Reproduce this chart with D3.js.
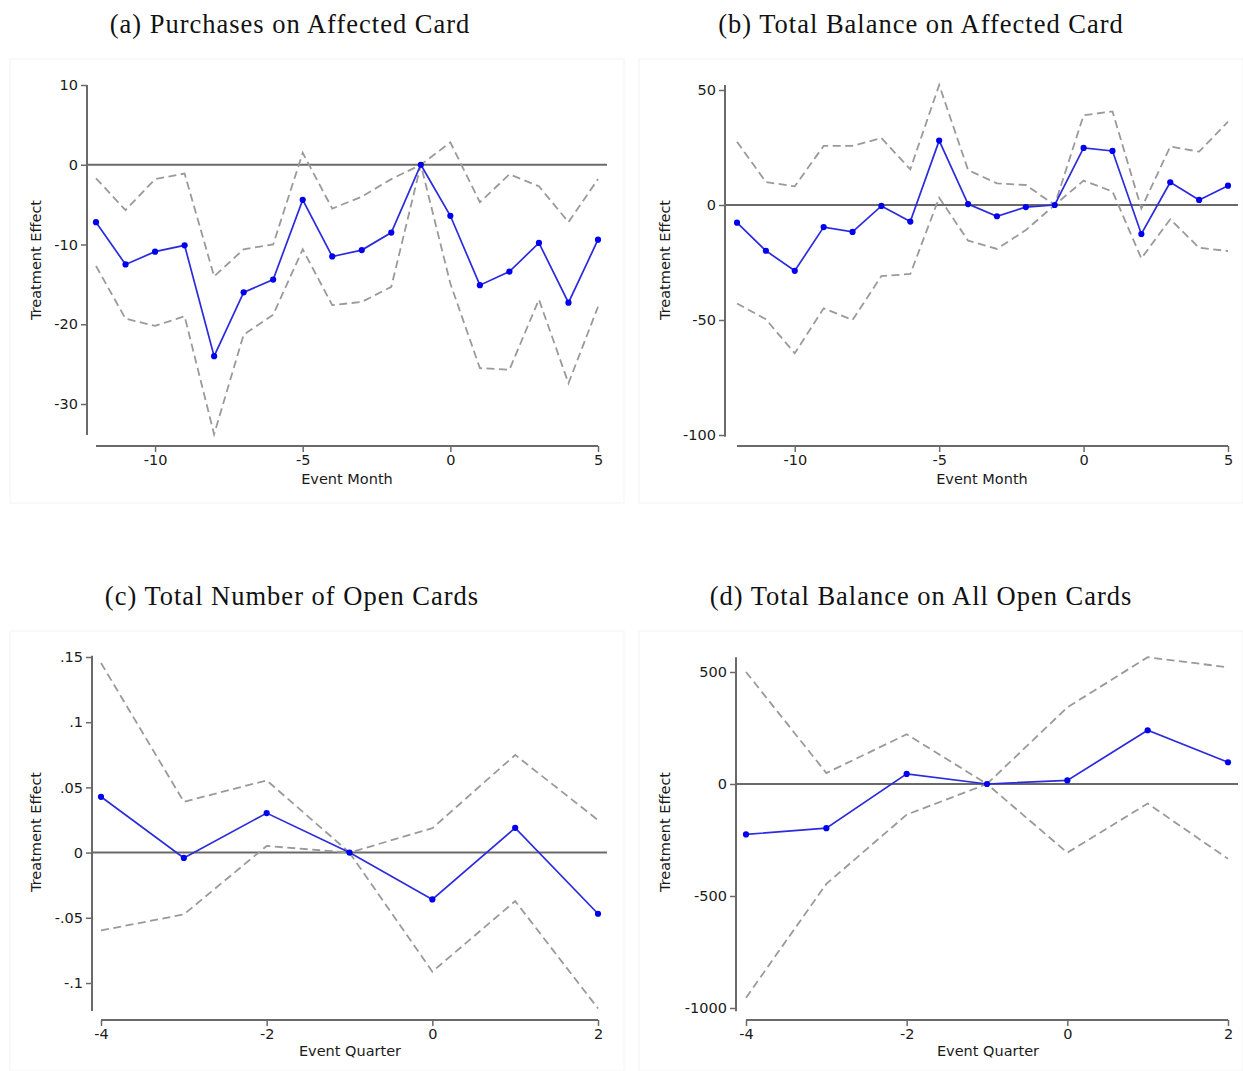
<!DOCTYPE html>
<html>
<head>
<meta charset="utf-8">
<script src="https://cdn.jsdelivr.net/npm/d3@7"></script>
<style>
  html, body { margin: 0; padding: 0; background: #fff; }
  svg { display: block; }
</style>
</head>
<body>
<svg id="chart" width="1243" height="1071"></svg>
<script>
// ---------- DATA ----------
const monthsX = [-12,-11,-10,-9,-8,-7,-6,-5,-4,-3,-2,-1,0,1,2,3,4,5];
const quartersX = [-4,-3,-2,-1,0,1,2];

const titles = ["(a) Purchases on Affected Card", "(b) Total Balance on Affected Card",
                "(c) Total Number of Open Cards", "(d) Total Balance on All Open Cards"];
const xLabels = ["Event Month", "Event Month", "Event Quarter", "Event Quarter"];
const yLabel = "Treatment Effect";

// (a) Purchases on Affected Card
const aEst   = [-7.2,-12.5,-10.9,-10.1,-24.0,-16.0,-14.4,-4.4,-11.5,-10.7,-8.5,0,-6.4,-15.1,-13.4,-9.8,-17.3,-9.4];
const aUpper = [-1.7,-5.7,-1.8,-1.1,-14.0,-10.6,-10.0,1.5,-5.5,-4.0,-1.8,0,2.8,-4.7,-1.2,-2.7,-7.2,-1.8];
const aLower = [-12.7,-19.3,-20.2,-19.0,-33.8,-21.3,-18.8,-10.6,-17.6,-17.2,-15.3,0,-14.9,-25.5,-25.7,-16.9,-27.4,-17.8];
const aTicksY = [10,0,-10,-20,-30];
const aTickLabelsY = ["10","0","-10","-20","-30"];
const aTicksX = [-10,-5,0,5];
const aTickLabelsX = ["-10","-5","0","5"];

// (b) Total Balance on Affected Card
const bEst   = [-7.7,-19.9,-28.6,-9.6,-11.7,-0.4,-7.2,28.0,0.4,-4.9,-0.9,0,24.8,23.5,-12.6,9.9,2.2,8.4];
const bUpper = [27.5,10.0,8.1,25.7,25.7,29.1,15.5,52.2,15.2,9.4,8.7,0,39.0,40.7,-1.5,25.4,23.2,36.2];
const bLower = [-42.8,-49.7,-64.5,-44.9,-50.0,-30.9,-30.0,3.2,-15.5,-19.1,-10.9,0,10.6,5.9,-23.2,-6.2,-18.6,-20.0];
const bTicksY = [50,0,-50,-100];
const bTickLabelsY = ["50","0","-50","-100"];
const bTicksX = [-10,-5,0,5];
const bTickLabelsX = ["-10","-5","0","5"];

// (c) Total Number of Open Cards
const cEst   = [0.0428,-0.0041,0.0303,0,-0.0359,0.019,-0.0469];
const cUpper = [0.1454,0.039,0.0554,0,0.0187,0.0749,0.0249];
const cLower = [-0.0597,-0.0474,0.0051,0,-0.0913,-0.0372,-0.1195];
const cTicksY = [0.15,0.1,0.05,0,-0.05,-0.1];
const cTickLabelsY = [".15",".1",".05","0","-.05","-.1"];
const cTicksX = [-4,-2,0,2];
const cTickLabelsX = ["-4","-2","0","2"];

// (d) Total Balance on All Open Cards
const dEst   = [-225,-197,45,0,16,240,97];
const dUpper = [500,49,222,0,342,566,521];
const dLower = [-954,-446,-137,0,-307,-87,-334];
const dTicksY = [500,0,-500,-1000];
const dTickLabelsY = ["500","0","-500","-1000"];
const dTicksX = [-4,-2,0,2];
const dTickLabelsX = ["-4","-2","0","2"];

// ---------- LAYOUT ----------
const panels = [
  { x: monthsX, est: aEst, up: aUpper, lo: aLower, ticksY: aTicksY, tickLabelsY: aTickLabelsY,
    ticksX: aTicksX, tickLabelsX: aTickLabelsX,
    xDom: [-12,5], xRange: [96,598], yDom: [10,-30], yRange: [85,404], yAxisX: 87,
    yAxisDom: [10,-33.9], xAxisY: 446, zeroEnd: 607,
    title: titles[0], titleX: 290, titleY: 33, xLab: xLabels[0], xLabX: 347, xLabY: 484, yLabX: 41, yLabY: 260,
    frame: [10,59,614,444] },
  { x: monthsX, est: bEst, up: bUpper, lo: bLower, ticksY: bTicksY, tickLabelsY: bTickLabelsY,
    ticksX: bTicksX, tickLabelsX: bTickLabelsX,
    xDom: [-12,5], xRange: [737,1228], yDom: [50,-100], yRange: [90,435], yAxisX: 725,
    yAxisDom: [52.2,-100.8], xAxisY: 446, zeroEnd: 1238,
    title: titles[1], titleX: 921, titleY: 33, xLab: xLabels[1], xLabX: 982, xLabY: 484, yLabX: 670, yLabY: 260,
    frame: [639,59,604,444] },
  { x: quartersX, est: cEst, up: cUpper, lo: cLower, ticksY: cTicksY, tickLabelsY: cTickLabelsY,
    ticksX: cTicksX, tickLabelsX: cTickLabelsX,
    xDom: [-4,2], xRange: [101,598], yDom: [0.15,-0.1], yRange: [657,983], yAxisX: 92,
    yAxisDom: [0.151,-0.1215], xAxisY: 1020, zeroEnd: 607,
    title: titles[2], titleX: 292, titleY: 605, xLab: xLabels[2], xLabX: 350, xLabY: 1056, yLabX: 41, yLabY: 832,
    frame: [10,631,614,440] },
  { x: quartersX, est: dEst, up: dUpper, lo: dLower, ticksY: dTicksY, tickLabelsY: dTickLabelsY,
    ticksX: dTicksX, tickLabelsX: dTickLabelsX,
    xDom: [-4,2], xRange: [746,1228], yDom: [500,-1000], yRange: [672,1008], yAxisX: 736,
    yAxisDom: [566,-1015], xAxisY: 1020, zeroEnd: 1238,
    title: titles[3], titleX: 921, titleY: 605, xLab: xLabels[3], xLabX: 988, xLabY: 1056, yLabX: 670, yLabY: 832,
    frame: [639,631,604,440] }
];

const svg = d3.select("#chart");
const axisColor = "#6a6a6a";
const textColor = "#1a1a1a";
const sansFont = "'DejaVu Sans', sans-serif";
const serifFont = "'Liberation Serif', 'DejaVu Serif', serif";
const fs = 14.5;

panels.forEach(p => {
  const g = svg.append("g");
  const x = d3.scaleLinear().domain(p.xDom).range(p.xRange);
  const y = d3.scaleLinear().domain(p.yDom).range(p.yRange);

  // faint frame
  g.append("rect").attr("x", p.frame[0]).attr("y", p.frame[1])
    .attr("width", p.frame[2]).attr("height", p.frame[3])
    .attr("fill", "none").attr("stroke", "#f3f3f3").attr("stroke-width", 1);

  // title
  g.append("text").attr("x", p.titleX).attr("y", p.titleY)
    .attr("text-anchor", "middle").attr("font-family", serifFont)
    .attr("font-size", 26.5).attr("letter-spacing", 1.0).attr("fill", "#111").text(p.title);

  // y axis
  const yAxis = d3.axisLeft(y).tickValues(p.ticksY).tickSize(6).tickPadding(3)
    .tickFormat((d, i) => p.tickLabelsY[i]);
  const ya = g.append("g").attr("transform", `translate(${p.yAxisX},0)`).call(yAxis);
  ya.select(".domain").remove();
  ya.append("line").attr("x1", 0).attr("x2", 0)
    .attr("y1", y(p.yAxisDom[0])).attr("y2", y(p.yAxisDom[1]))
    .attr("stroke", axisColor).attr("stroke-width", 2);
  ya.selectAll(".tick line").attr("stroke", axisColor).attr("stroke-width", 1.5);
  ya.selectAll(".tick text").attr("font-family", sansFont).attr("font-size", fs).attr("fill", textColor);

  // x axis
  const xAxis = d3.axisBottom(x).tickValues(p.ticksX).tickSize(6).tickPadding(3)
    .tickFormat((d, i) => p.tickLabelsX[i]);
  const xa = g.append("g").attr("transform", `translate(0,${p.xAxisY})`).call(xAxis);
  xa.select(".domain").remove();
  xa.append("line").attr("x1", x(p.xDom[0])).attr("x2", x(p.xDom[1]))
    .attr("y1", 0).attr("y2", 0)
    .attr("stroke", axisColor).attr("stroke-width", 2);
  xa.selectAll(".tick line").attr("stroke", axisColor).attr("stroke-width", 1.5);
  xa.selectAll(".tick text").attr("font-family", sansFont).attr("font-size", fs).attr("fill", textColor);

  // axis labels
  g.append("text").attr("x", p.xLabX).attr("y", p.xLabY).attr("text-anchor", "middle")
    .attr("font-family", sansFont).attr("font-size", fs).attr("fill", textColor).text(p.xLab);
  g.append("text").attr("transform", `translate(${p.yLabX},${p.yLabY}) rotate(-90)`)
    .attr("text-anchor", "middle")
    .attr("font-family", sansFont).attr("font-size", fs).attr("fill", textColor).text(yLabel);

  // zero line
  g.append("line").attr("x1", p.yAxisX).attr("x2", p.zeroEnd)
    .attr("y1", y(0)).attr("y2", y(0))
    .attr("stroke", axisColor).attr("stroke-width", 2);

  const line = d3.line().x(d => x(d[0])).y(d => y(d[1]));
  const zip = arr => p.x.map((v, i) => [v, arr[i]]);

  [p.up, p.lo].forEach(arr => {
    g.append("path").attr("d", line(zip(arr)))
      .attr("fill", "none").attr("stroke", "#9a9a9a").attr("stroke-width", 1.8)
      .attr("stroke-dasharray", "8,4.5");
  });

  g.append("path").attr("d", line(zip(p.est)))
    .attr("fill", "none").attr("stroke", "#2b2bdd").attr("stroke-width", 1.7);

  g.selectAll("circle.pt").data(zip(p.est)).enter().append("circle")
    .attr("class", "pt")
    .attr("cx", d => x(d[0])).attr("cy", d => y(d[1])).attr("r", 3.1)
    .attr("fill", "#0000ee");
});
</script>
</body>
</html>
